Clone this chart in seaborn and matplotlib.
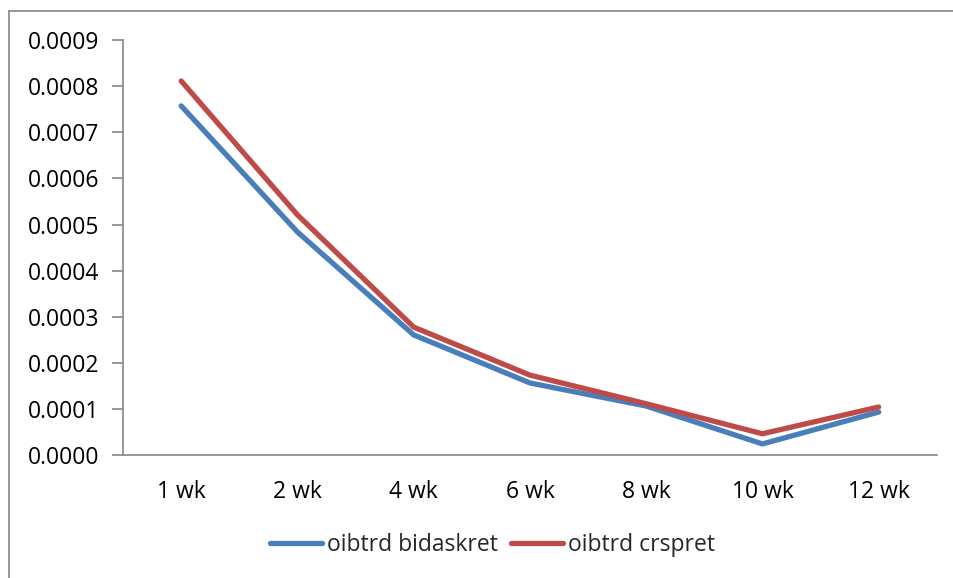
import matplotlib
matplotlib.use("Agg")
import matplotlib.pyplot as plt
import seaborn as sns
import pandas as pd
from matplotlib.lines import Line2D

categories = ["1 wk", "2 wk", "4 wk", "6 wk", "8 wk", "10 wk", "12 wk"]
bidaskret = [0.000757, 0.000484, 0.000261, 0.000157, 0.000107, 0.000025, 0.000094]
crspret = [0.000811, 0.000521, 0.000278, 0.000174, 0.000112, 0.000047, 0.000105]
series_names = ["oibtrd bidaskret", "oibtrd crspret"]
yticks = [i * 0.0001 for i in range(10)]

sns.set_style("white")
plt.rcParams["font.family"] = ["Open Sans", "DejaVu Sans"]
FS = 16.5

df = pd.DataFrame({
    "cat": list(range(len(categories))) * 2,
    "value": bidaskret + crspret,
    "series": [series_names[0]] * len(categories) + [series_names[1]] * len(categories),
})

fig = plt.figure(figsize=(9.54, 5.78), dpi=100)
ax = fig.add_axes([0.129, 0.212, 0.853, 0.719])

palette = {series_names[0]: "#4A7EBB", series_names[1]: "#BE4B48"}
sns.lineplot(data=df, x="cat", y="value", hue="series", palette=palette,
             linewidth=3.8, ax=ax, legend=True)
for ln in ax.get_lines():
    ln.set_solid_capstyle("round")
    ln.set_solid_joinstyle("round")

ax.set_xlim(-0.5, len(categories) - 0.5)
ax.set_ylim(0, 0.0009)
ax.set_yticks(yticks)
ax.set_yticklabels([f"{v:.4f}" for v in yticks], fontsize=FS, color="black")
ax.set_xticks(range(len(categories)))
ax.set_xticklabels(categories, fontsize=FS, color="black")
ax.set_xticks([i - 0.5 for i in range(len(categories) + 1)], minor=True)
ax.tick_params(axis="x", which="major", length=0, pad=18)
ax.tick_params(axis="x", which="minor", length=8, width=1.2, color="#868686", direction="out")
ax.tick_params(axis="y", which="major", length=8, width=1.2, color="#868686", direction="out", pad=9, left=True)
ax.set_xlabel("")
ax.set_ylabel("")
for s in ["top", "right"]:
    ax.spines[s].set_visible(False)
for s in ["left", "bottom"]:
    ax.spines[s].set_color("#868686")
    ax.spines[s].set_linewidth(1.2)

handles, labels = ax.get_legend_handles_labels()
ax.legend(handles, labels, loc="center", bbox_to_anchor=(0.516, 0.057),
          bbox_transform=fig.transFigure, ncol=2, frameon=False,
          fontsize=FS, handlelength=2.3, handletextpad=0.2, columnspacing=0.55)
for ln in ax.get_legend().get_lines():
    ln.set_linewidth(3.8)
    ln.set_solid_capstyle("round")

# outer chart border (only left and top visible in reference)
fig.lines.append(Line2D([9.5 / 954, 9.5 / 954], [0, 1 - 10.5 / 578],
                        transform=fig.transFigure, color="#868686", linewidth=1.2))
fig.lines.append(Line2D([9.5 / 954, 1], [1 - 10.5 / 578, 1 - 10.5 / 578],
                        transform=fig.transFigure, color="#868686", linewidth=1.2))

fig.savefig("out.png", dpi=100)
